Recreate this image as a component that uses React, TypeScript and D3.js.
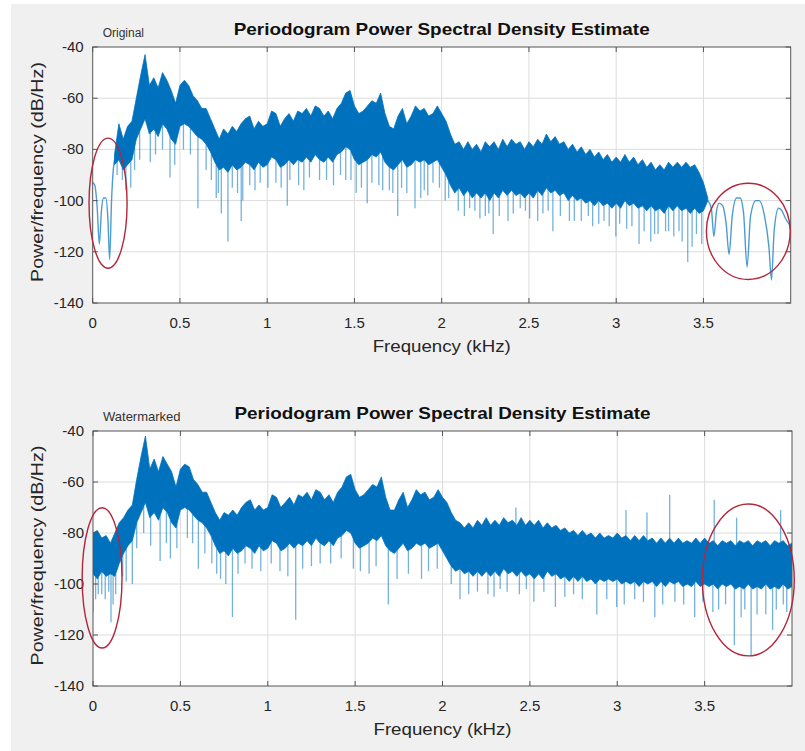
import React, { useEffect, useRef } from "react";
import * as d3 from "d3";

// band samples are taken every 0.025 kHz
const bandStep = 0.025;

// ---- Original: dense part of the spectrum from 0.125 to 3.525 kHz (top / bottom of the dark band, dB/Hz)
const origBandStart = 0.125;
const origBandTop = [
  -82, -70, -76, -71, -69,
  -60, -51, -43, -55, -52, -56, -50, -53, -57, -62,
  -55, -53, -55, -59, -61, -64, -64, -68, -72, -76,
  -72, -74, -71, -73, -70, -68, -67, -72, -69, -71,
  -70, -65, -66, -71, -68, -66, -69, -65, -66, -64,
  -67, -63, -64, -67, -65, -68, -64, -62, -58, -57,
  -63, -66, -65, -63, -61, -62, -58, -66, -71, -72,
  -67, -64, -70, -67, -63, -65, -64, -67, -66, -63,
  -66, -69, -74, -78, -77, -80, -77, -80, -78, -81,
  -77, -79, -77, -80, -76, -79, -76, -78, -77, -80,
  -77, -79, -76, -78, -74, -77, -75, -78, -77, -80,
  -78, -81, -79, -82, -80, -83, -81, -84, -82, -85,
  -83, -85, -82, -85, -83, -86, -84, -87, -85, -88,
  -86, -88, -85, -87, -85, -87, -85, -87, -86, -89,
  -93, -99,
];
const origBandBottom = [
  -86, -84, -88, -86, -84,
  -76, -72, -68, -74, -72, -75, -70, -72, -76, -78,
  -71, -70, -71, -73, -75, -76, -78, -81, -85, -88,
  -87, -89, -86, -88, -87, -85, -86, -88, -85, -87,
  -86, -83, -84, -87, -86, -84, -86, -84, -85, -83,
  -85, -82, -84, -85, -83, -85, -82, -81, -79, -80,
  -84, -86, -85, -84, -82, -83, -81, -85, -87, -88,
  -86, -84, -87, -86, -84, -85, -84, -86, -85, -84,
  -87, -90, -94, -97, -95, -98, -96, -99, -97, -99,
  -97, -100, -97, -99, -96, -98, -96, -98, -97, -99,
  -97, -99, -96, -98, -95, -97, -96, -98, -97, -100,
  -98, -100, -99, -101, -100, -102, -100, -102, -101, -103,
  -101, -103, -100, -102, -101, -103, -102, -104, -102, -104,
  -103, -105, -102, -104, -102, -104, -103, -105, -103, -105,
  -104, -100,
];
// clean single-line stretches at both ends
const origHeadFreq = [0, 0.012, 0.025, 0.038, 0.05, 0.062, 0.075, 0.087, 0.097, 0.108, 0.118, 0.125];
const origHeadDb = [-93, -94, -102, -117, -104, -99, -99, -107, -123, -100, -88, -84];
const origTailFreq = [
  3.525, 3.545, 3.56, 3.575, 3.59, 3.61, 3.63, 3.647, 3.665, 3.69, 3.71, 3.73, 3.75, 3.77,
  3.8, 3.82, 3.85, 3.875, 3.89, 3.905, 3.93, 3.95, 3.97, 4.0,
];
const origTailDb = [
  -100, -103, -114, -104, -101, -102, -109, -121, -106, -99, -99, -105, -126, -106,
  -100, -100, -106, -118, -131, -112, -103, -104, -107, -110,
];
// downward spikes below the band
const origDipFreq = [
  0.14, 0.17, 0.19, 0.218, 0.24, 0.269, 0.33, 0.36, 0.4, 0.443, 0.47, 0.52, 0.56, 0.603, 0.65,
  0.68, 0.708, 0.72, 0.737, 0.775, 0.8, 0.83, 0.851, 0.86, 0.9, 0.93, 0.96, 1.004, 1.05, 1.08,
  1.115, 1.13, 1.18, 1.21, 1.242, 1.3, 1.34, 1.38, 1.42, 1.45, 1.48, 1.51, 1.54, 1.573, 1.6,
  1.64, 1.662, 1.7, 1.72, 1.748, 1.77, 1.8, 1.847, 1.88, 1.9, 1.92, 1.95, 1.987, 2.02, 2.04,
  2.095, 2.13, 2.16, 2.19, 2.219, 2.25, 2.27, 2.295, 2.33, 2.38, 2.41, 2.45, 2.48, 2.504, 2.55,
  2.58, 2.61, 2.637, 2.68, 2.732, 2.76, 2.8, 2.84, 2.865, 2.9, 2.93, 2.96, 2.998, 3.02, 3.06,
  3.09, 3.131, 3.16, 3.198, 3.22, 3.24, 3.283, 3.3, 3.33, 3.36, 3.378, 3.41, 3.435, 3.46, 3.49,
];
const origDipDb = [
  -90, -92, -96, -95, -88, -84, -85, -82, -80, -91, -86, -80, -82, -103, -88,
  -92, -99, -97, -105, -116, -95, -97, -108, -100, -94, -96, -93, -95, -93, -95,
  -102, -92, -94, -96, -91, -92, -92, -94, -90, -92, -92, -97, -95, -101, -93,
  -94, -96, -96, -97, -106, -95, -97, -103, -99, -96, -98, -93, -95, -100, -99,
  -104, -106, -103, -104, -107, -106, -105, -113, -106, -108, -105, -103, -104, -107, -108,
  -105, -104, -112, -106, -108, -108, -108, -106, -110, -109, -108, -110, -114, -109, -111,
  -110, -117, -112, -116, -113, -113, -112, -112, -114, -112, -116, -124, -118, -113, -117,
];

// ---- Watermarked: dense band from 0 to 4 kHz
const wmBandStart = 0;
const wmBandTop = [
  -80, -79, -82, -81, -84, -80, -76, -74, -71, -69,
  -59, -50, -42, -55, -51, -56, -50, -53, -56, -62,
  -55, -53, -54, -59, -61, -64, -64, -68, -72, -75,
  -72, -73, -71, -73, -70, -68, -67, -71, -69, -71,
  -70, -65, -66, -70, -68, -66, -69, -65, -66, -64,
  -67, -63, -64, -67, -65, -68, -64, -62, -58, -57,
  -63, -66, -65, -63, -61, -62, -58, -66, -71, -71,
  -67, -64, -70, -67, -63, -65, -64, -67, -66, -63,
  -66, -68, -72, -75, -76, -78, -76, -78, -75, -77,
  -74, -77, -75, -77, -74, -76, -75, -77, -74, -77,
  -75, -77, -75, -78, -76, -78, -77, -79, -78, -80,
  -79, -81, -79, -81, -80, -82, -80, -82, -81, -82,
  -80, -82, -81, -83, -81, -83, -81, -83, -82, -84,
  -82, -84, -82, -84, -82, -84, -83, -84, -82, -84,
  -82, -84, -83, -85, -83, -84, -83, -85, -83, -84,
  -83, -85, -83, -84, -83, -85, -83, -84, -83, -85,
  -84,
];
const wmBandBottom = [
  -96, -98, -95, -97, -96, -97, -92, -88, -85, -83,
  -76, -72, -68, -74, -72, -75, -70, -72, -76, -78,
  -71, -70, -71, -73, -75, -76, -78, -81, -85, -88,
  -87, -89, -86, -88, -87, -85, -86, -88, -85, -87,
  -86, -83, -84, -87, -86, -84, -86, -84, -85, -83,
  -85, -82, -84, -85, -83, -85, -82, -81, -79, -80,
  -84, -86, -85, -84, -82, -83, -81, -85, -87, -88,
  -86, -84, -87, -86, -84, -85, -84, -86, -85, -84,
  -87, -90, -93, -95, -94, -96, -95, -97, -95, -97,
  -95, -97, -95, -97, -94, -96, -95, -97, -95, -97,
  -96, -98, -96, -98, -95, -97, -96, -98, -97, -99,
  -97, -99, -97, -99, -98, -100, -98, -99, -98, -99,
  -98, -100, -99, -100, -99, -101, -99, -100, -99, -101,
  -99, -101, -99, -100, -99, -101, -100, -101, -99, -101,
  -100, -101, -100, -102, -100, -101, -100, -102, -101, -102,
  -100, -102, -101, -102, -100, -102, -101, -102, -100, -102,
  -101,
];
const wmDipFreq = [
  0.0, 0.015, 0.03, 0.05, 0.07, 0.09, 0.103, 0.115, 0.13, 0.17, 0.19, 0.225, 0.25, 0.29, 0.33,
  0.384, 0.42, 0.443, 0.48, 0.54, 0.57, 0.603, 0.64, 0.68, 0.708, 0.73, 0.76, 0.798, 0.83, 0.87,
  0.91, 0.96, 1.02, 1.07, 1.115, 1.16, 1.2, 1.25, 1.3, 1.36, 1.42, 1.49, 1.53, 1.58, 1.62,
  1.69, 1.74, 1.805, 1.88, 1.92, 1.97, 2.05, 2.1, 2.15, 2.2, 2.26, 2.295, 2.33, 2.37, 2.44,
  2.48, 2.523, 2.58, 2.646, 2.7, 2.75, 2.8, 2.883, 2.94, 2.997, 3.04, 3.1, 3.15, 3.215, 3.26,
  3.33, 3.38, 3.443, 3.49, 3.547, 3.58, 3.62, 3.67, 3.709, 3.73, 3.766, 3.8, 3.85, 3.889, 3.91,
  3.95, 3.97,
];
const wmDipDb = [
  -111, -106, -104, -104, -106, -103, -115, -108, -104, -97, -99, -100, -86, -80, -85,
  -91, -84, -90, -86, -82, -84, -94, -88, -92, -96, -98, -100, -113, -96, -92,
  -94, -95, -92, -95, -97, -114, -94, -93, -92, -92, -90, -94, -95, -96, -93,
  -108, -98, -96, -98, -95, -94, -100, -106, -104, -103, -104, -105, -102, -103, -104,
  -102, -107, -103, -109, -105, -104, -106, -112, -106, -109, -108, -106, -107, -113, -108,
  -107, -108, -113, -107, -111, -110, -108, -124, -113, -110, -128, -112, -112, -118, -110,
  -108, -111,
];
// upward spikes above the band
const wmPeakFreq = [2.42, 3.05, 3.17, 3.3, 3.555, 3.683, 3.935];
const wmPeakDb = [-70, -71, -72, -65, -67, -74, -71];

// red rings drawn over the plots: centre and half-size in kHz / dB
const origRingFreq = [0.088, 3.757];
const origRingDb = [-101, -112];
const origRingHalfFreq = [0.109, 0.24];
const origRingHalfDb = [25.4, 18.8];
const wmRingFreq = [0.052, 3.75];
const wmRingDb = [-97.6, -98.4];
const wmRingHalfFreq = [0.114, 0.263];
const wmRingHalfDb = [27.5, 29.8];

const xTicks = [0, 0.5, 1, 1.5, 2, 2.5, 3, 3.5];
const yTicks = [-140, -120, -100, -80, -60, -40];
const titleText = "Periodogram Power Spectral Density Estimate";

const FONT = "'Liberation Sans', Arial, Helvetica, sans-serif";
const BLUE = "#0072BD";
const AXIS = "#262626";

type PanelProps = {
  id: string;
  tag: string;
  tagSize: number;
  left: number;
  right: number;
  top: number;
  bottom: number;
  bandStart: number;
  bandTop: number[];
  bandBottom: number[];
  lines: { freq: number[]; db: number[] }[];
  dipFreq: number[];
  dipDb: number[];
  peakFreq: number[];
  peakDb: number[];
  ringFreq: number[];
  ringDb: number[];
  ringHalfFreq: number[];
  ringHalfDb: number[];
};

const Panel = (p: PanelProps) => {
  const ref = useRef<SVGGElement>(null);

  useEffect(() => {
    const g = d3.select(ref.current);
    g.selectAll("*").remove();

    const x = d3.scaleLinear().domain([0, 4]).range([p.left, p.right]);
    const y = d3.scaleLinear().domain([-140, -40]).range([p.bottom, p.top]);
    const midX = (p.left + p.right) / 2;
    const bandFreq = p.bandTop.map((_, i) => p.bandStart + i * bandStep);

    // axes background
    g.append("rect")
      .attr("x", p.left)
      .attr("y", p.top)
      .attr("width", p.right - p.left)
      .attr("height", p.bottom - p.top)
      .attr("fill", "#fff");

    // grid
    g.selectAll(".vgrid")
      .data(xTicks.filter((t) => t > 0))
      .join("line")
      .attr("x1", (d) => x(d))
      .attr("x2", (d) => x(d))
      .attr("y1", p.top)
      .attr("y2", p.bottom)
      .attr("stroke", "#dcdcdc")
      .attr("stroke-width", 1);
    g.selectAll(".hgrid")
      .data(yTicks.filter((t) => t > -140 && t < -40))
      .join("line")
      .attr("x1", p.left)
      .attr("x2", p.right)
      .attr("y1", (d) => y(d))
      .attr("y2", (d) => y(d))
      .attr("stroke", "#dcdcdc")
      .attr("stroke-width", 1);

    const clipId = `clip-${p.id}`;
    g.append("clipPath")
      .attr("id", clipId)
      .append("rect")
      .attr("x", p.left)
      .attr("y", p.top)
      .attr("width", p.right - p.left)
      .attr("height", p.bottom - p.top);

    const plot = g.append("g").attr("clip-path", `url(#${clipId})`);

    const topAt = d3.scaleLinear(bandFreq, p.bandTop).clamp(true);
    const bottomAt = d3.scaleLinear(bandFreq, p.bandBottom).clamp(true);

    // spikes down
    plot
      .selectAll(".dip")
      .data(p.dipFreq)
      .join("line")
      .attr("x1", (d) => x(d))
      .attr("x2", (d) => x(d))
      .attr("y1", (d) => y(bottomAt(d)))
      .attr("y2", (d, i) => y(p.dipDb[i]))
      .attr("stroke", BLUE)
      .attr("stroke-opacity", 0.55)
      .attr("stroke-width", 1.3);

    // spikes up
    plot
      .selectAll(".peak")
      .data(p.peakFreq)
      .join("line")
      .attr("x1", (d) => x(d))
      .attr("x2", (d) => x(d))
      .attr("y1", (d) => y(topAt(d)))
      .attr("y2", (d, i) => y(p.peakDb[i]))
      .attr("stroke", BLUE)
      .attr("stroke-opacity", 0.55)
      .attr("stroke-width", 1.3);

    // dense band
    const idx = d3.range(bandFreq.length);
    const area = d3
      .area<number>()
      .x((i) => x(bandFreq[i]))
      .y0((i) => y(p.bandBottom[i]))
      .y1((i) => y(p.bandTop[i]));
    plot
      .append("path")
      .attr("d", area(idx))
      .attr("fill", BLUE)
      .attr("stroke", BLUE)
      .attr("stroke-width", 0.8)
      .attr("stroke-linejoin", "miter");

    // single-line parts
    p.lines.forEach((ln) => {
      const li = d3.range(ln.freq.length);
      const line = d3
        .line<number>()
        .x((i) => x(ln.freq[i]))
        .y((i) => y(ln.db[i]))
        .curve(d3.curveMonotoneX);
      plot
        .append("path")
        .attr("d", line(li))
        .attr("fill", "none")
        .attr("stroke", BLUE)
        .attr("stroke-opacity", 0.7)
        .attr("stroke-width", 1.4);
    });

    // box + ticks
    g.append("rect")
      .attr("x", p.left)
      .attr("y", p.top)
      .attr("width", p.right - p.left)
      .attr("height", p.bottom - p.top)
      .attr("fill", "none")
      .attr("stroke", "#555")
      .attr("stroke-width", 1);

    const tk = 5;
    xTicks.forEach((t) => {
      g.append("line").attr("x1", x(t)).attr("x2", x(t)).attr("y1", p.bottom).attr("y2", p.bottom - tk).attr("stroke", "#555");
      g.append("line").attr("x1", x(t)).attr("x2", x(t)).attr("y1", p.top).attr("y2", p.top + tk).attr("stroke", "#555");
    });
    yTicks.forEach((t) => {
      g.append("line").attr("x1", p.left).attr("x2", p.left + tk).attr("y1", y(t)).attr("y2", y(t)).attr("stroke", "#555");
      g.append("line").attr("x1", p.right).attr("x2", p.right - tk).attr("y1", y(t)).attr("y2", y(t)).attr("stroke", "#555");
    });

    g.selectAll(".xlab")
      .data(xTicks)
      .join("text")
      .attr("x", (d) => x(d))
      .attr("y", p.bottom + 25)
      .attr("text-anchor", "middle")
      .attr("font-family", FONT)
      .attr("font-size", 15)
      .attr("fill", AXIS)
      .text((d) => String(d));

    g.selectAll(".ylab")
      .data(yTicks)
      .join("text")
      .attr("x", p.left - 9)
      .attr("y", (d) => y(d) + 5)
      .attr("text-anchor", "end")
      .attr("font-family", FONT)
      .attr("font-size", 15)
      .attr("fill", AXIS)
      .text((d) => String(d));

    g.append("text")
      .attr("x", midX)
      .attr("y", p.bottom + 49)
      .attr("text-anchor", "middle")
      .attr("font-family", FONT)
      .attr("font-size", 17)
      .attr("fill", AXIS)
      .attr("textLength", 138)
      .attr("lengthAdjust", "spacingAndGlyphs")
      .text("Frequency (kHz)");

    g.append("text")
      .attr("transform", `translate(${p.left - 50},${(p.top + p.bottom) / 2 - 3}) rotate(-90)`)
      .attr("text-anchor", "middle")
      .attr("font-family", FONT)
      .attr("font-size", 17)
      .attr("fill", AXIS)
      .attr("textLength", 220)
      .attr("lengthAdjust", "spacingAndGlyphs")
      .text("Power/frequency (dB/Hz)");

    g.append("text")
      .attr("x", midX)
      .attr("y", p.top - 12)
      .attr("text-anchor", "middle")
      .attr("font-family", FONT)
      .attr("font-size", 16.5)
      .attr("font-weight", "bold")
      .attr("fill", "#111")
      .attr("textLength", 416)
      .attr("lengthAdjust", "spacingAndGlyphs")
      .text(titleText);

    g.append("text")
      .attr("x", p.left + 10)
      .attr("y", p.top - 10)
      .attr("font-family", FONT)
      .attr("font-size", p.tagSize)
      .attr("fill", "#333")
      .text(p.tag);

    // red rings
    g.selectAll(".ring")
      .data(p.ringFreq)
      .join("ellipse")
      .attr("cx", (d) => x(d))
      .attr("cy", (d, i) => y(p.ringDb[i]))
      .attr("rx", (d, i) => x(d + p.ringHalfFreq[i]) - x(d))
      .attr("ry", (d, i) => y(p.ringDb[i] - p.ringHalfDb[i]) - y(p.ringDb[i]))
      .attr("fill", "none")
      .attr("stroke", "#b3263c")
      .attr("stroke-width", 1.4);
  }, []);

  return <g ref={ref} />;
};

export default function App() {
  return (
    <svg
      width={805}
      height={751}
      style={{ position: "absolute", left: 0, top: 0, background: "#fff" }}
    >
      <rect x={11} y={4} width={794} height={747} fill="#f0f0f0" />
      <Panel
        id="orig"
        tag="Original"
        tagSize={12}
        left={92.7}
        right={790.7}
        top={47}
        bottom={303}
        bandStart={origBandStart}
        bandTop={origBandTop}
        bandBottom={origBandBottom}
        lines={[
          { freq: origHeadFreq, db: origHeadDb },
          { freq: origTailFreq, db: origTailDb },
        ]}
        dipFreq={origDipFreq}
        dipDb={origDipDb}
        peakFreq={[]}
        peakDb={[]}
        ringFreq={origRingFreq}
        ringDb={origRingDb}
        ringHalfFreq={origRingHalfFreq}
        ringHalfDb={origRingHalfDb}
      />
      <Panel
        id="wm"
        tag="Watermarked"
        tagSize={13}
        left={93}
        right={792}
        top={431}
        bottom={686}
        bandStart={wmBandStart}
        bandTop={wmBandTop}
        bandBottom={wmBandBottom}
        lines={[]}
        dipFreq={wmDipFreq}
        dipDb={wmDipDb}
        peakFreq={wmPeakFreq}
        peakDb={wmPeakDb}
        ringFreq={wmRingFreq}
        ringDb={wmRingDb}
        ringHalfFreq={wmRingHalfFreq}
        ringHalfDb={wmRingHalfDb}
      />
    </svg>
  );
}
